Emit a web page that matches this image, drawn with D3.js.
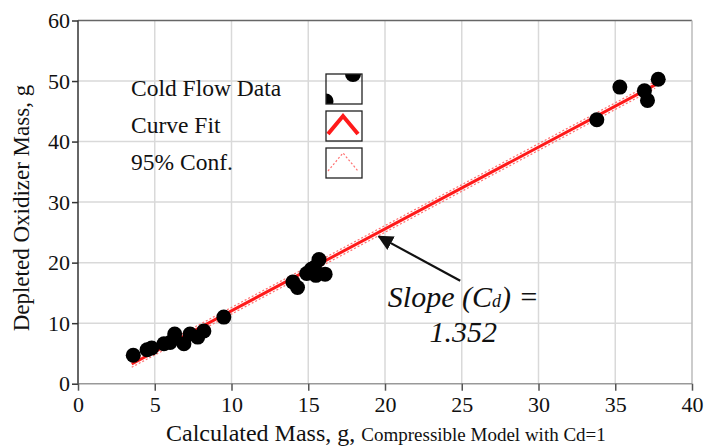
<!DOCTYPE html>
<html>
<head>
<meta charset="utf-8">
<script src="https://cdn.jsdelivr.net/npm/d3@7"></script>
<style>
  body { margin: 0; background: #fff; }
  text { font-family: "Liberation Serif", "Times New Roman", serif; fill: #111; }
</style>
</head>
<body>
<svg id="chart" width="704" height="448"></svg>
<script>
// cold flow data
const calcMass = [3.6, 4.5, 4.8, 5.6, 6.0, 6.3, 6.9, 7.3, 7.8, 8.2, 9.5,
                  14.0, 14.3, 14.9, 15.2, 15.4, 15.7, 15.5, 16.1,
                  33.8, 35.3, 36.9, 37.1, 37.8];
const depletedMass = [4.7, 5.6, 5.9, 6.6, 6.8, 8.2, 6.6, 8.2, 7.7, 8.7, 11.0,
                      16.8, 15.9, 18.2, 18.9, 19.2, 20.5, 17.9, 18.1,
                      43.6, 49.0, 48.4, 46.8, 50.3];
const slope = 1.352, intercept = -1.47;
const fitRange = [3.5, 37.6];
const confOffset = 0.55;
const xTicks = [0, 5, 10, 15, 20, 25, 30, 35, 40];
const yTicks = [0, 10, 20, 30, 40, 50, 60];
const legendLabels = ["Cold Flow Data", "Curve Fit", "95% Conf."];

const svg = d3.select("#chart");
const x = d3.scaleLinear().domain([0, 40]).range([78, 692]);
const y = d3.scaleLinear().domain([0, 60]).range([383.7, 20.5]);

// grid
svg.append("g").selectAll("line").data(xTicks.slice(1, -1)).join("line")
    .attr("x1", d => x(d)).attr("x2", d => x(d))
    .attr("y1", y(60)).attr("y2", y(0))
    .attr("stroke", "#d9d9d9").attr("stroke-width", 1.5);
svg.append("g").selectAll("line").data(yTicks.slice(1, -1)).join("line")
    .attr("x1", x(0)).attr("x2", x(40))
    .attr("y1", d => y(d)).attr("y2", d => y(d))
    .attr("stroke", "#d9d9d9").attr("stroke-width", 1.5);

// frame
svg.append("line").attr("x1", x(0)).attr("x2", x(40)).attr("y1", y(60)).attr("y2", y(60))
    .attr("stroke", "#666").attr("stroke-width", 1.5);
svg.append("line").attr("x1", x(40)).attr("x2", x(40)).attr("y1", y(60)).attr("y2", y(0))
    .attr("stroke", "#bbb").attr("stroke-width", 1.5);
svg.append("line").attr("x1", x(0)).attr("x2", x(40)).attr("y1", y(0)).attr("y2", y(0))
    .attr("stroke", "#999").attr("stroke-width", 1.5);
svg.append("line").attr("x1", x(0)).attr("x2", x(0)).attr("y1", y(60)).attr("y2", y(0))
    .attr("stroke", "#333").attr("stroke-width", 1.5);

// axes
const yAxis = svg.append("g").attr("transform", `translate(${x(0)},0)`)
    .call(d3.axisLeft(y).tickValues(yTicks).tickSize(6).tickPadding(2));
yAxis.select(".domain").remove();
yAxis.selectAll(".tick line").attr("stroke", "#333").attr("stroke-width", 1.5);
yAxis.selectAll(".tick text").attr("font-size", 22)
    .attr("font-family", "Liberation Serif").attr("fill", "#111");

const xAxis = svg.append("g").attr("transform", `translate(0,${y(0)})`)
    .call(d3.axisBottom(x).tickValues(xTicks).tickSize(7).tickPadding(6));
xAxis.select(".domain").remove();
xAxis.selectAll(".tick line").attr("stroke", "#555").attr("stroke-width", 1.5);
xAxis.selectAll(".tick text").attr("font-size", 22)
    .attr("font-family", "Liberation Serif").attr("fill", "#111");

// axis titles
svg.append("text")
    .attr("transform", `translate(29,${(y(0) + y(60)) / 2 + 6}) rotate(-90)`)
    .attr("text-anchor", "middle").attr("font-size", 23)
    .text("Depleted Oxidizer Mass, g");
const xt = svg.append("text").attr("x", 166).attr("y", 441).attr("font-size", 24);
xt.append("tspan").text("Calculated Mass, g, ");
xt.append("tspan").attr("font-size", 19).text("Compressible Model with Cd=1");

// confidence band + fit
const line = d3.line().x(d => x(d[0])).y(d => y(d[1]));
[-confOffset, confOffset].forEach(o => {
    svg.append("path")
        .attr("d", line(fitRange.map(v => [v, slope * v + intercept + o])))
        .attr("fill", "none").attr("stroke", "#ff7070").attr("stroke-width", 1.2)
        .attr("stroke-dasharray", "2,2");
});
svg.append("path")
    .attr("d", line(fitRange.map(v => [v, slope * v + intercept])))
    .attr("fill", "none").attr("stroke", "#ff1a1a").attr("stroke-width", 3);

// data points
svg.append("g").selectAll("circle").data(calcMass).join("circle")
    .attr("cx", d => x(d))
    .attr("cy", (d, i) => y(depletedMass[i]))
    .attr("r", 7.5)
    .attr("fill", "#000");

// legend
const legend = svg.append("g");
legendLabels.forEach((lab, i) => {
    const top = 74 + i * 37;
    legend.append("text").attr("x", 131).attr("y", top + 22).attr("font-size", 23.5).text(lab);
    legend.append("clipPath").attr("id", "lc" + i)
        .append("rect").attr("x", 326).attr("y", top).attr("width", 36).attr("height", 30);
    const box = legend.append("g").attr("clip-path", `url(#lc${i})`);
    if (i === 0) {
        box.append("circle").attr("cx", 326).attr("cy", top + 27).attr("r", 7.5).attr("fill", "#000");
        box.append("circle").attr("cx", 353).attr("cy", top).attr("r", 8).attr("fill", "#000");
    } else {
        box.append("path")
            .attr("d", `M${328},${top + 23} L${343},${top + 5} L${358},${top + 23}`)
            .attr("fill", "none")
            .attr("stroke", i === 1 ? "#ff1a1a" : "#ff7070")
            .attr("stroke-width", i === 1 ? 4 : 1.2)
            .attr("stroke-dasharray", i === 1 ? null : "2,2");
    }
    legend.append("rect").attr("x", 326).attr("y", top).attr("width", 36).attr("height", 30)
        .attr("fill", "none").attr("stroke", "#222").attr("stroke-width", 1.3);
});

// annotation
svg.append("defs").append("marker").attr("id", "arrow")
    .attr("viewBox", "0 0 10 10").attr("refX", 9).attr("refY", 5)
    .attr("markerWidth", 7).attr("markerHeight", 7).attr("orient", "auto")
    .append("path").attr("d", "M0,0 L10,5 L0,10 Z").attr("fill", "#111");
svg.append("line")
    .attr("x1", x(24.9)).attr("y1", y(17.0))
    .attr("x2", x(19.6)).attr("y2", y(24.3))
    .attr("stroke", "#111").attr("stroke-width", 2.2)
    .attr("marker-end", "url(#arrow)");
const ann = svg.append("text").attr("x", x(25.1)).attr("y", y(12.7))
    .attr("text-anchor", "middle").attr("font-size", 30).attr("font-style", "italic");
ann.append("tspan").text("Slope (C");
ann.append("tspan").attr("font-size", 18).text("d");
ann.append("tspan").text(") =");
svg.append("text").attr("x", x(25.1)).attr("y", y(6.9))
    .attr("text-anchor", "middle").attr("font-size", 30).attr("font-style", "italic")
    .text("1.352");
</script>
</body>
</html>
